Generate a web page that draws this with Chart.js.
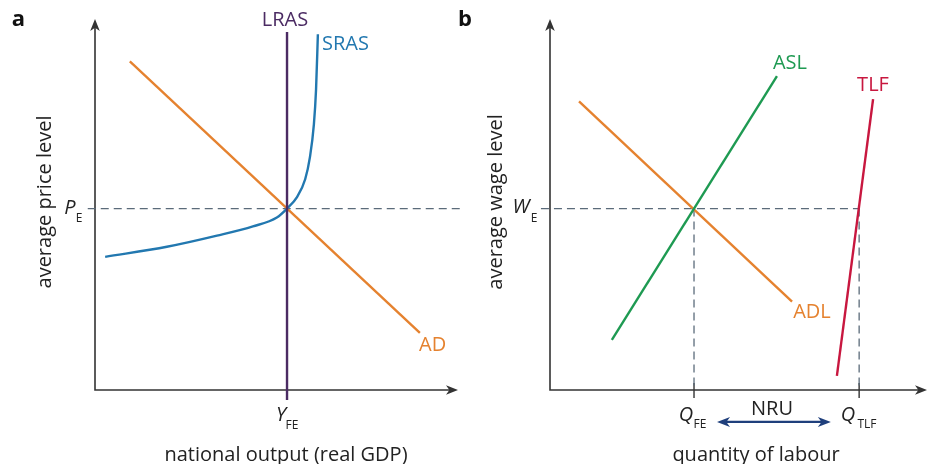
<!DOCTYPE html>
<html><head><meta charset="utf-8">
<script src="https://cdn.jsdelivr.net/npm/chart.js@4.4.1/dist/chart.umd.min.js"></script>
<style>
html,body{margin:0;padding:0;background:#fff;}
#wrap{position:relative;width:928px;height:464px;overflow:hidden;background:#fff;}
canvas{position:absolute;top:0;}
</style></head><body>
<div id="wrap">
<canvas id="ca" width="470" height="464" style="left:0"></canvas>
<canvas id="cb" width="478" height="464" style="left:450px"></canvas>
</div>
<script>
// ===== Panel a: national output (x) vs average price level (y), abstract units 0-10 =====
const adX   = [0.96, 8.95];
const adY   = [8.86, 1.54];
const srasX = [0.28, 1.98, 3.36, 4.35, 5.01, 5.29, 5.56, 5.79, 5.92, 6.03, 6.09, 6.14];
const srasY = [3.59, 3.86, 4.16, 4.41, 4.65, 4.89, 5.19, 5.68, 6.27, 7.16, 8.11, 9.59];
const yFE   = 5.29;          // full-employment output
const pE    = 4.89;          // equilibrium price level
const lrasY = [-0.27, 9.65]; // vertical extent of LRAS
const peLineX = [-0.2, 10.05];

// ===== Panel b: quantity of labour (x) vs average wage level (y) =====
const adlX = [0.77, 6.42];
const adlY = [7.78, 2.38];
const aslX = [1.64, 6.02];
const aslY = [1.35, 8.46];
const tlfX = [7.61, 8.57];
const tlfY = [0.38, 7.84];
const qFE  = 3.82;
const qTLF = 8.20;
const wE   = 4.89;
const weLineX = [-0.24, 8.20];
const nruX = [4.43, 7.45];
const nruY = -0.86;

// ----- colours -----
const AXIS = '#333333', DASH = '#5b6b7a';
const ORANGE = '#e5822f', BLUE = '#2278b0', PURPLE = '#4b2b63', GREEN = '#1e9a52', RED = '#c8173f', NAVY = '#1f3f7c';
const FONT = "'Open Sans', 'Noto Sans', sans-serif";
const OB = 450; // left edge of panel b canvas in page pixels

const pts = (xs, ys) => xs.map((v, i) => ({x: v, y: ys[i]}));

function head(ctx, tx, ty, ang, len, w, color) {
  ctx.save(); ctx.translate(tx, ty); ctx.rotate(ang);
  ctx.beginPath(); ctx.moveTo(0, 0); ctx.lineTo(-len, -w); ctx.lineTo(-len * 0.72, 0); ctx.lineTo(-len, w); ctx.closePath();
  ctx.fillStyle = color; ctx.fill(); ctx.restore();
}
function txt(ctx, s, x, y, font, color, align, base) {
  ctx.save(); ctx.font = font; ctx.fillStyle = color; ctx.textAlign = align || 'center'; ctx.textBaseline = base || 'middle';
  ctx.fillText(s, x, y); ctx.restore();
}
function vtxt(ctx, s, x, y, font, color) {
  ctx.save(); ctx.translate(x, y); ctx.rotate(-Math.PI / 2); ctx.font = font; ctx.fillStyle = color;
  ctx.textAlign = 'center'; ctx.textBaseline = 'middle'; ctx.fillText(s, 0, 0); ctx.restore();
}

const axesPlugin = {
  id: 'axesArrows',
  beforeDatasetsDraw(chart) {
    const {ctx, scales: {x, y}} = chart;
    const x0 = x.getPixelForValue(0), y0 = y.getPixelForValue(0);
    const xt = x.getPixelForValue(x.max), yt = y.getPixelForValue(y.max);
    ctx.save(); ctx.strokeStyle = AXIS; ctx.lineWidth = 1.6;
    ctx.beginPath(); ctx.moveTo(x0, yt + 8); ctx.lineTo(x0, y0); ctx.lineTo(xt - 8, y0); ctx.stroke();
    head(ctx, x0, yt, -Math.PI / 2, 12, 4.8, AXIS);
    head(ctx, xt, y0, 0, 12, 4.8, AXIS);
    (chart.options.plugins.axesArrows.ticks || []).forEach(v => {
      const px = x.getPixelForValue(v);
      ctx.beginPath(); ctx.moveTo(px, y0 - 7); ctx.lineTo(px, y0 + 8); ctx.lineWidth = 1.4; ctx.stroke();
    });
    ctx.restore();
  }
};

const labelsA = {
  id: 'labelsA',
  afterDatasetsDraw(chart) {
    const ctx = chart.ctx;
    txt(ctx, 'a', 18.5, 26, "bold 22px " + FONT, '#111', 'center', 'alphabetic');
    txt(ctx, 'LRAS', 285, 20, "20px " + FONT, PURPLE);
    txt(ctx, 'SRAS', 322, 44, "20px " + FONT, BLUE, 'left');
    txt(ctx, 'AD', 419, 345, "20px " + FONT, ORANGE, 'left');
    txt(ctx, 'P', 70, 208, "italic 20px " + FONT, '#222');
    txt(ctx, 'E', 79, 219, "12px " + FONT, '#222');
    txt(ctx, 'Y', 281, 415, "italic 20px " + FONT, '#222');
    txt(ctx, 'FE', 292, 426, "12px " + FONT, '#222');
    txt(ctx, 'national output (real GDP)', 286, 461, "20px " + FONT, '#222', 'center', 'alphabetic');
    vtxt(ctx, 'average price level', 45, 202, "20px " + FONT, '#222');
  }
};
const labelsB = {
  id: 'labelsB',
  afterDatasetsDraw(chart) {
    const ctx = chart.ctx;
    txt(ctx, 'b', 465 - OB, 26, "bold 22px " + FONT, '#111', 'center', 'alphabetic');
    txt(ctx, 'ASL', 790 - OB, 63, "20px " + FONT, GREEN);
    txt(ctx, 'TLF', 873 - OB, 85, "20px " + FONT, RED);
    txt(ctx, 'ADL', 812 - OB, 312, "20px " + FONT, ORANGE);
    txt(ctx, 'W', 521 - OB, 207, "italic 20px " + FONT, '#222');
    txt(ctx, 'E', 534 - OB, 219, "12px " + FONT, '#222');
    txt(ctx, 'Q', 686 - OB, 415, "italic 20px " + FONT, '#222');
    txt(ctx, 'FE', 700 - OB, 425, "12px " + FONT, '#222');
    txt(ctx, 'Q', 848 - OB, 415, "italic 20px " + FONT, '#222');
    txt(ctx, 'TLF', 867 - OB, 425, "12px " + FONT, '#222');
    txt(ctx, 'NRU', 772 - OB, 409, "20px " + FONT, '#222');
    txt(ctx, 'quantity of labour', 756 - OB, 461, "20px " + FONT, '#222', 'center', 'alphabetic');
    vtxt(ctx, 'average wage level', 496 - OB, 202, "20px " + FONT, '#222');
    // NRU double arrow heads
    const {x, y} = chart.scales;
    const ax0 = x.getPixelForValue(nruX[0]), ax1 = x.getPixelForValue(nruX[1]), ay = y.getPixelForValue(nruY);
    head(ctx, ax0, ay, Math.PI, 13, 5, NAVY);
    head(ctx, ax1, ay, 0, 13, 5, NAVY);
  }
};

function baseOptions(pad, extraTicks) {
  return {
    responsive: false, animation: false, devicePixelRatio: 1,
    layout: {padding: pad},
    scales: {
      x: {type: 'linear', min: 0, max: 10, display: false},
      y: {type: 'linear', min: 0, max: 10, display: false}
    },
    plugins: {legend: {display: false}, tooltip: {enabled: false}, axesArrows: {ticks: extraTicks}},
    elements: {point: {radius: 0}}
  };
}
function line(data, color, width, extra) {
  return Object.assign({data, borderColor: color, borderWidth: width, showLine: true, pointRadius: 0, fill: false, clip: false, tension: 0}, extra || {});
}

new Chart(document.getElementById('ca'), {
  type: 'scatter',
  data: {datasets: [
    line(pts(adX, adY), ORANGE, 2.4, {order: 2}),
    line(pts(srasX, srasY), BLUE, 2.4, {order: 1, cubicInterpolationMode: 'monotone'}),
    line(pts([yFE, yFE], lrasY), PURPLE, 2.4, {order: 0}),
    line(pts(peLineX, [pE, pE]), DASH, 1.3, {order: 5, borderDash: [8, 5]})
  ]},
  options: baseOptions({left: 95, right: 470 - 458, top: 19, bottom: 74}, []),
  plugins: [axesPlugin, labelsA]
});

new Chart(document.getElementById('cb'), {
  type: 'scatter',
  data: {datasets: [
    line(pts(adlX, adlY), ORANGE, 2.4, {order: 2}),
    line(pts(aslX, aslY), GREEN, 2.4, {order: 1}),
    line(pts(tlfX, tlfY), RED, 2.4, {order: 0}),
    line(pts(weLineX, [wE, wE]), DASH, 1.3, {order: 5, borderDash: [8, 5]}),
    line(pts([qFE, qFE], [wE, 0]), DASH, 1.3, {order: 5, borderDash: [8, 5]}),
    line(pts([qTLF, qTLF], [wE, 0]), DASH, 1.3, {order: 5, borderDash: [8, 5]}),
    line(pts([nruX[0] + 0.2, nruX[1] - 0.2], [nruY, nruY]), NAVY, 2.4, {order: 0})
  ]},
  options: baseOptions({left: 550 - OB, right: 1, top: 19, bottom: 74}, [qFE, qTLF]),
  plugins: [axesPlugin, labelsB]
});
</script>
</body></html>
